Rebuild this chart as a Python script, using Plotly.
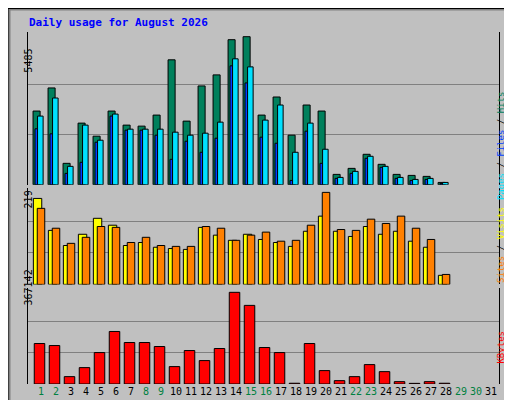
import plotly.graph_objects as go

days = list(range(1, 29))
all_days = list(range(1, 32))

hits = [2682, 3523, 780, 2243, 1767, 2682, 2170, 2133, 2535, 4546, 2316, 3596, 3998, 5278,
        5387, 2535, 3193, 1804, 2901, 2682, 378, 597, 1109, 744, 378, 341, 305, 85]
files = [2036, 1853, 414, 817, 1548, 2499, 1987, 1987, 1804, 926, 1584, 1182, 1694, 4327,
         3705, 1731, 1511, 158, 1950, 780, 232, 414, 963, 634, 232, 158, 195, 49]
pages = [2499, 3157, 670, 2170, 1621, 2572, 2023, 2023, 2023, 1914, 1804, 1877, 2279, 4583,
         4290, 2352, 2901, 1182, 2243, 1292, 268, 488, 1036, 670, 268, 195, 232, 85]
visits = [199, 125, 90, 116, 153, 137, 90, 97, 86, 83, 81, 132, 114, 102,
          116, 104, 97, 88, 123, 158, 123, 111, 134, 116, 123, 100, 86, 21]
sites = [176, 130, 95, 109, 134, 132, 97, 109, 90, 88, 88, 134, 130, 102,
         114, 121, 100, 102, 137, 213, 127, 125, 151, 141, 158, 130, 104, 23]
kbytes = [158400, 150500, 28800, 64100, 123000, 205500, 162300, 162300, 146600, 68100,
          130900, 91600, 138800, 358700, 307600, 142700, 123000, 3000, 158400, 52400,
          13100, 28800, 75900, 48400, 9200, 2500, 9200, 3000]
weekend = [1, 2, 8, 9, 15, 16, 22, 23, 29, 30]

max_hits = 5485
max_sites = 219
max_kb = 367142

fig = go.Figure()
edge = dict(color="black", width=1)
fig.add_trace(go.Bar(x=days, y=hits, offset=-0.53, width=0.47, marker=dict(color="#00805c", line=edge), yaxis="y"))
fig.add_trace(go.Bar(x=days, y=files, offset=-0.4, width=0.2, marker=dict(color="#0040ff", line=edge), yaxis="y"))
fig.add_trace(go.Bar(x=days, y=pages, offset=-0.23, width=0.37, marker=dict(color="#00e0ff", line=edge), yaxis="y"))
fig.add_trace(go.Bar(x=days, y=visits, offset=-0.51, width=0.56, marker=dict(color="#ffff00", line=edge), yaxis="y2"))
fig.add_trace(go.Bar(x=days, y=sites, offset=-0.25, width=0.5, marker=dict(color="#ff8000", line=edge), yaxis="y2"))
fig.add_trace(go.Bar(x=days, y=kbytes, offset=-0.45, width=0.7, marker=dict(color="#ff0000", line=edge), yaxis="y3"))

ticktext = []
for d in all_days:
    c = "#008040" if d in weekend else "black"
    ticktext.append("<span style='color:%s'>%d</span>" % (c, d))

def yax(domain, top, vmax):
    return dict(domain=domain, range=[0, top], tickvals=[vmax / 3, vmax * 2 / 3],
                showticklabels=False, gridcolor="#808080", gridwidth=1, zeroline=False,
                showline=True, linecolor="black", mirror=True, fixedrange=True,
                anchor="x", automargin=False)

fig.update_layout(
    width=512, height=400,
    margin=dict(l=20, r=21, t=24, b=24, autoexpand=False),
    paper_bgcolor="#c0c0c0", plot_bgcolor="#c0c0c0",
    showlegend=False, barmode="overlay",
    font=dict(family="DejaVu Sans Mono", size=10, color="black"),
    xaxis=dict(range=[0.133, 31.53], tickvals=all_days, ticktext=ticktext, showgrid=False,
               ticks="", showline=False, anchor="y3", tickangle=0, automargin=False,
               tickfont=dict(size=10)),
    yaxis=yax([0.566, 1.0], max_hits * 152 / 150, max_hits),
    yaxis2=yax([0.283, 0.556], max_sites * 96 / 94.5, max_sites),
    yaxis3=yax([0.0, 0.272], max_kb * 95.4 / 93.5, max_kb),
)

# frame of the image
fig.add_shape(type="rect", xref="paper", yref="paper", x0=-19/471, x1=1 + 19/471,
              y0=-22/352, y1=1 + 23/352, line=dict(color="#808080", width=3), layer="below")
fig.add_shape(type="rect", xref="paper", yref="paper", x0=-20/471, x1=1 + 20.5/471,
              y0=-23.5/352, y1=1 + 23.5/352, line=dict(color="black", width=1), layer="below")

anns = [
    dict(x=-1/471, y=1 + 18/352, text="<b>Daily usage for August 2026</b>", xanchor="left",
         font=dict(color="#0000ff", size=11)),
    dict(x=-7/471, y=0.957, text=str(max_hits), textangle=-90),
    dict(x=-7/471, y=0.523, text=str(max_sites), textangle=-90),
    dict(x=-7/471, y=0.216, text=str(max_kb), textangle=-90),
    dict(x=1 + 9/471, y=0.835, textangle=-90, font=dict(size=9),
         text="<span style='color:#00e0ff'>Pages</span> / <span style='color:#0040ff'>Files</span> / <span style='color:#00805c'>Hits</span>"),
    dict(x=1 + 9/471, y=0.395, textangle=-90, font=dict(size=9),
         text="<span style='color:#ff8000'>Sites</span> / <span style='color:#ffff00'>Visits</span>"),
    dict(x=1 + 9/471, y=0.051, textangle=-90, font=dict(size=9),
         text="<span style='color:#ff0000'>KBytes</span>"),
]
for a in anns:
    a.setdefault("xref", "paper")
    a.setdefault("yref", "paper")
    a["showarrow"] = False
    fig.add_annotation(**a)

fig.write_html("out.html")
